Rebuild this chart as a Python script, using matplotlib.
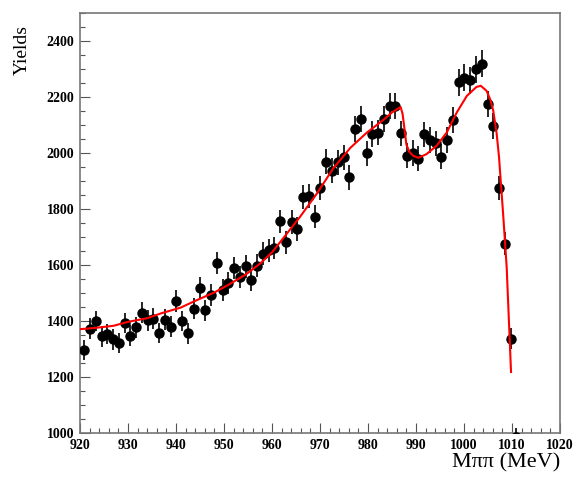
import numpy as np
import matplotlib
matplotlib.use("Agg")
import matplotlib.pyplot as plt
from matplotlib.ticker import MultipleLocator

# measured yields, 1.2 MeV bins (bin centres in MeV)
mass = [920.9, 922.1, 923.3, 924.5, 925.7, 926.9, 928.1, 929.3, 930.5, 931.7,
        932.9, 934.1, 935.3, 936.5, 937.7, 938.9, 940.1, 941.3, 942.5, 943.7,
        944.9, 946.1, 947.3, 948.5, 949.7, 950.9, 952.1, 953.3, 954.5, 955.7,
        956.9, 958.1, 959.3, 960.5, 961.7, 962.9, 964.1, 965.3, 966.5, 967.7,
        968.9, 970.1, 971.3, 972.5, 973.7, 974.9, 976.1, 977.3, 978.5, 979.7,
        980.9, 982.1, 983.3, 984.5, 985.7, 986.9, 988.1, 989.3, 990.5, 991.7,
        992.9, 994.1, 995.3, 996.5, 997.7, 998.9, 1000.1, 1001.3, 1002.5, 1003.7,
        1004.9, 1006.1, 1007.3, 1008.5, 1009.7, 1010.9]
yields = [1295, 1373, 1400, 1345, 1353, 1334, 1322, 1393, 1348, 1377,
          1429, 1402, 1408, 1357, 1405, 1379, 1471, 1400, 1356, 1444,
          1519, 1438, 1492, 1607, 1512, 1535, 1590, 1557, 1595, 1545,
          1598, 1640, 1652, 1661, 1756, 1682, 1753, 1729, 1844, 1848,
          1773, 1875, 1969, 1937, 1967, 1984, 1913, 2085, 2121, 1999,
          2068, 2073, 2121, 2168, 2168, 2070, 1990, 2000, 1979, 2067,
          2046, 2034, 1987, 2047, 2118, 2252, 2269, 2260, 2299, 2319,
          2174, 2097, 1874, 1676, 1337, 985]
errors = np.sqrt(yields)

# fit curve
fit_m = [920, 923, 927, 930, 934, 937, 941, 944, 948, 951, 954.7, 957.5,
         960, 962.4, 965.8, 969.3, 972.8, 976.3, 979.7, 983.2, 985, 986.2,
         986.8, 987.2, 987.5, 988, 988.6, 989.4, 990.5, 992.2, 994.3, 996.4,
         998.5, 1000.6, 1002.6, 1003.5, 1004.7, 1005.5, 1006.1, 1006.8,
         1007.3, 1008.2, 1008.9, 1009.8]
fit_y = [1371, 1375, 1383, 1397, 1410, 1428, 1448, 1472, 1502, 1530, 1568,
         1605, 1645, 1697, 1771, 1854, 1946, 2018, 2072, 2118, 2145, 2158,
         2164, 2140, 2100, 2030, 2005, 1990, 1983, 1996, 2026, 2073, 2145,
         2204, 2236, 2240, 2222, 2190, 2151, 2070, 1985, 1771, 1590, 1218]

plt.rcParams['font.family'] = ['Liberation Serif', 'DejaVu Serif']

fig = plt.figure(figsize=(5.76, 4.78), dpi=100)
ax = fig.add_axes([0.1389, 0.0941, 0.8333, 0.8787])

ax.errorbar(mass, yields, yerr=errors, fmt='o', color='black', ms=6.5,
            elinewidth=1.2, capsize=0, zorder=3)
ax.plot(fit_m, fit_y, color='red', lw=1.5, zorder=4)

ax.set_xlim(920, 1020)
ax.set_ylim(1000, 2500)
ax.xaxis.set_major_locator(MultipleLocator(10))
ax.xaxis.set_minor_locator(MultipleLocator(2))
ax.yaxis.set_major_locator(MultipleLocator(200))
ax.yaxis.set_minor_locator(MultipleLocator(50))
ax.tick_params(which='both', direction='in', top=False, right=False,
               labelsize=10, color='#555555')
ax.tick_params(which='major', length=7, width=0.8, pad=4)
ax.tick_params(which='minor', length=3.5, width=0.8)
for lab in ax.get_xticklabels() + ax.get_yticklabels():
    lab.set_fontweight('bold')
for s in ax.spines.values():
    s.set_color('#777777')
    s.set_linewidth(1.2)

fig.text(0.038, 0.895, 'Yields', rotation=90, ha='center', va='center',
         fontsize=14)
fig.text(0.972, 0.022, 'Mππ (MeV)', ha='right', va='baseline', fontsize=16)

fig.savefig('out.png', dpi=100)
